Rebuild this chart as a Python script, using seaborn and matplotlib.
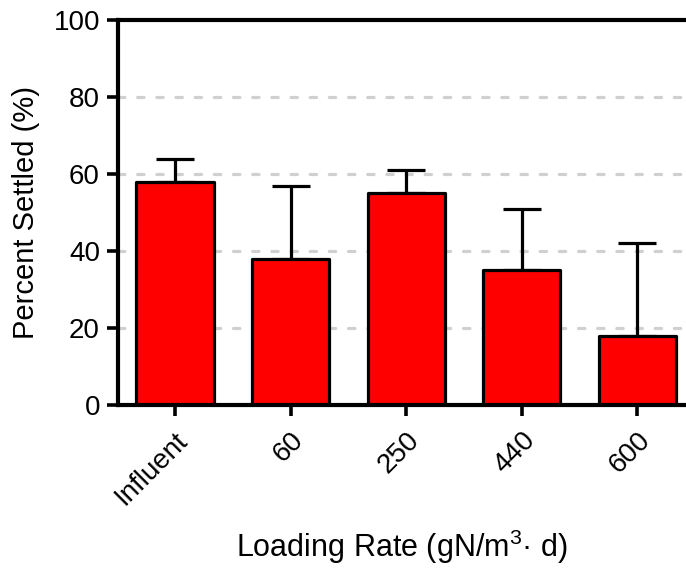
import numpy as np
import pandas as pd
import matplotlib
matplotlib.use("Agg")
import matplotlib.pyplot as plt
import seaborn as sns

categories = ["Influent", "60", "250", "440", "600"]
settled = [58, 38, 55, 35, 18]
err_upper = [6, 19, 6, 16, 24]

sns.set_style("white")
plt.rcParams['font.family'] = ['Liberation Sans', 'DejaVu Sans']
plt.rcParams['mathtext.default'] = 'regular'
plt.rcParams['text.color'] = 'black'
plt.rcParams['axes.labelcolor'] = 'black'
plt.rcParams['xtick.color'] = 'black'
plt.rcParams['ytick.color'] = 'black'

df = pd.DataFrame({"rate": categories, "settled": settled})

fig = plt.figure(figsize=(6.86, 5.73), dpi=100)
ax = fig.add_axes([0.172, 0.293, 0.828, 0.672])

# error bars first so the bars cover the lower half
ax.errorbar(np.arange(len(categories)), settled, yerr=[np.zeros(5), err_upper],
            fmt="none", ecolor="black", elinewidth=2.3, capsize=13.5, capthick=2.3, zorder=1)

sns.barplot(data=df, x="rate", y="settled", color="#ff0000", saturation=1,
            width=0.667, edgecolor="black", linewidth=2.3, ax=ax, zorder=2)
for p in ax.patches:
    p.set_joinstyle("round")

for yv in [20, 40, 60, 80]:
    ax.axhline(yv, color="#d0d0d0", lw=2.3, dashes=(2.0, 4.0),
               dash_capstyle="round", zorder=0)

ax.set_ylim(0, 100)
ax.set_xlim(-0.493, 4.42)
ax.set_yticks([0, 20, 40, 60, 80, 100])
ax.set_ylabel("Percent Settled (%)", fontsize=21, labelpad=10)
ax.set_xlabel("Loading Rate (gN/m$^{3}$· d)", fontsize=22, labelpad=13)

for s in ["left", "bottom", "top"]:
    ax.spines[s].set_linewidth(3.0)
    ax.spines[s].set_color("black")
ax.spines["right"].set_visible(False)

ax.tick_params(axis="both", length=8, width=2.6, labelsize=20,
               direction="out", bottom=True, left=True, pad=5)
ax.tick_params(axis="x", pad=8)
plt.setp(ax.get_xticklabels(), rotation=45, ha="right", rotation_mode="anchor")

fig.savefig("out.png", dpi=100)
